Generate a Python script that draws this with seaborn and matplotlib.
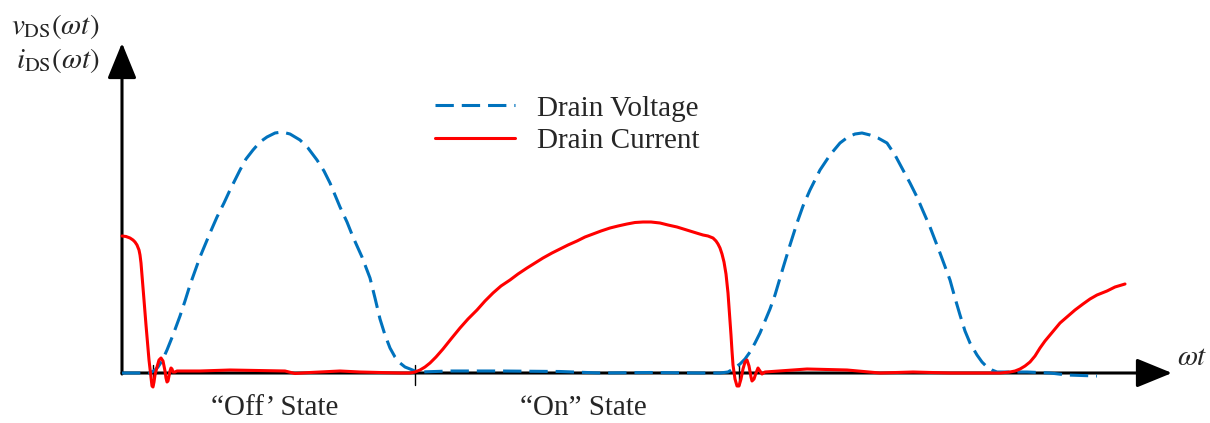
import pandas as pd
import matplotlib
matplotlib.use("Agg")
import matplotlib.pyplot as plt
import seaborn as sns

# values (x = ωt in arbitrary units from the origin)
volt_x = [0, 28, 33, 36, 40, 45, 51, 58, 63, 68, 73, 78, 88, 95, 102, 108, 118, 124, 131, 138,
          145, 153, 160, 168, 178, 186, 195, 202, 208, 218, 225, 231, 240, 248, 253, 258, 263, 268, 273, 278,
          283, 288, 293, 298, 328, 378, 438, 478, 528, 578, 598, 606, 611, 618, 623, 628, 633, 638, 643, 648,
          653, 661, 668, 675, 681, 688, 693, 698, 708, 718, 726, 733, 740, 748, 756, 765, 773, 781, 788, 795,
          801, 808, 818, 828, 833, 838, 843, 848, 855, 860, 865, 870, 875, 905, 928, 945, 975]
volt_y = [0, 0, 3, 6, 12, 23, 38, 57, 72, 88, 102, 116, 140, 156, 170, 183, 203, 214, 223, 231,
          236, 240, 241, 239, 233, 225, 213, 202, 190, 166, 151, 136, 116, 95, 75, 54, 38, 25, 16, 10,
          6, 4, 2, 1, 2, 2, 1.5, 0, 0.5, 0, 0, 1, 4, 9, 14, 21, 30, 40, 52, 64,
          78, 105, 128, 150, 167, 183, 193, 203, 218, 230, 236, 239, 240, 238, 235, 230, 218, 203, 190, 176,
          162, 146, 120, 93, 75, 58, 42, 30, 18, 11, 6, 3, 1, 1, 0, -2, -3]

curr_x = [0, 4, 8, 11, 13, 15, 17, 18, 19, 20, 21, 22, 23, 24, 25, 26, 27, 28, 29, 30,
          31, 32, 33, 35, 37, 39, 41, 43, 44, 45, 46, 47, 48, 49, 50, 51, 53, 55, 78, 108,
          138, 163, 173, 188, 218, 238, 258, 278, 288, 293, 298, 303, 308, 314, 321, 329, 338, 346, 355, 363,
          371, 379, 388, 396, 405, 413, 421, 430, 438, 446, 455, 463, 471, 479, 488, 496, 505, 513, 521, 529,
          538, 546, 555, 563, 571, 576, 581, 586, 591, 594, 596, 598, 600, 602, 604, 606, 607, 608, 609, 610,
          611, 613, 615, 617, 619, 621, 623, 625, 627, 629, 630, 632, 634, 636, 638, 640, 643, 685, 725, 758,
          791, 828, 878, 883, 888, 893, 898, 903, 908, 913, 918, 923, 928, 933, 938, 945, 953, 961, 968, 975,
          985, 993, 1003]
curr_y = [137, 136.5, 135, 133, 131, 128, 123, 118, 110, 98, 86, 73, 60, 48, 36, 24, 13, 4, -6, -13,
          -14, -9, -2, 6, 13, 15, 12, 2, -5, -9, -8, -3, 2, 5, 4, 1, 1, 2, 2, 3,
          2.5, 2, -0.5, 0.5, 2, 1, 0.5, 0, 0, 1, 3, 6, 10, 16, 24, 34, 45, 54, 63, 72,
          80, 87, 93, 99, 105, 110, 115, 120, 124, 128, 132, 136, 139, 142, 145, 147, 149, 150.5, 151, 151,
          150, 148, 146, 143.5, 141, 139.5, 138, 137, 135, 132, 129, 125, 119, 111, 99, 80, 66, 53, 38, 22,
          8, -6, -13, -13, -6, 4, 11, 13, 7, -4, -8, -6, 0, 5, 2, -1, 1, 4, 3, 0,
          1, 0, 0, 0.5, 1, 2, 4, 7, 11, 17, 25, 32, 38, 44, 50, 56, 63, 69, 74, 78,
          82, 86, 89]

switch_times = [31, 293, 617]
state_labels = ["\u201cOff\u2019 State", "\u201cOn\u201d State"]
state_pos = [153, 461]

df = pd.concat([
    pd.DataFrame({"wt": volt_x, "val": volt_y, "signal": "Drain Voltage"}),
    pd.DataFrame({"wt": curr_x, "val": curr_y, "signal": "Drain Current"}),
])

sns.set_style("white")
plt.rcParams["font.family"] = ["Liberation Serif", "DejaVu Serif"]
plt.rcParams["mathtext.fontset"] = "stix"

fig = plt.figure(figsize=(12.1, 4.23), dpi=100)
ax = fig.add_axes([0, 0, 1, 1])

sns.lineplot(data=df, x="wt", y="val", hue="signal", style="signal",
             hue_order=["Drain Voltage", "Drain Current"],
             style_order=["Drain Voltage", "Drain Current"],
             palette={"Drain Voltage": "#0072BD", "Drain Current": "#FF0000"},
             dashes={"Drain Voltage": (6, 2.6), "Drain Current": ""},
             sort=False, estimator=None, lw=2.2, ax=ax, zorder=3)

ax.set_xlim(-122, 1088)
ax.set_ylim(-50, 373)
ax.axis("off")

# axis arrows
arrow = dict(arrowstyle="-|>,head_length=1.1,head_width=0.45", color="black",
             lw=2.2, shrinkA=0, shrinkB=0, mutation_scale=20)
ax.annotate("", xy=(1050, 0), xytext=(0, 0), arrowprops=arrow, zorder=2)
ax.annotate("", xy=(0, 330), xytext=(0, -1), arrowprops=arrow, zorder=2)

for t in switch_times:
    ax.plot([t, t], [-12, 8], color="black", lw=1, zorder=2)

ax.text(1055, 2, r"$\omega t$", fontsize=21, ha="left", va="bottom")
ax.text(-23, 347, r"$v_{\mathrm{DS}}(\omega t)$", fontsize=21, ha="right", va="center")
ax.text(-23, 313, r"$i_{\mathrm{DS}}(\omega t)$", fontsize=21, ha="right", va="center")

for lab, xp in zip(state_labels, state_pos):
    ax.text(xp, -35, lab, fontsize=21, ha="center", va="center")

handles, labels = ax.get_legend_handles_labels()
ax.legend(handles, labels, loc="upper left", bbox_to_anchor=(0.3595, 0.775),
          frameon=False, fontsize=21, handlelength=2.75, handletextpad=0.75,
          borderpad=0, borderaxespad=0, labelspacing=0.22)

fig.savefig("out.png", dpi=100)
